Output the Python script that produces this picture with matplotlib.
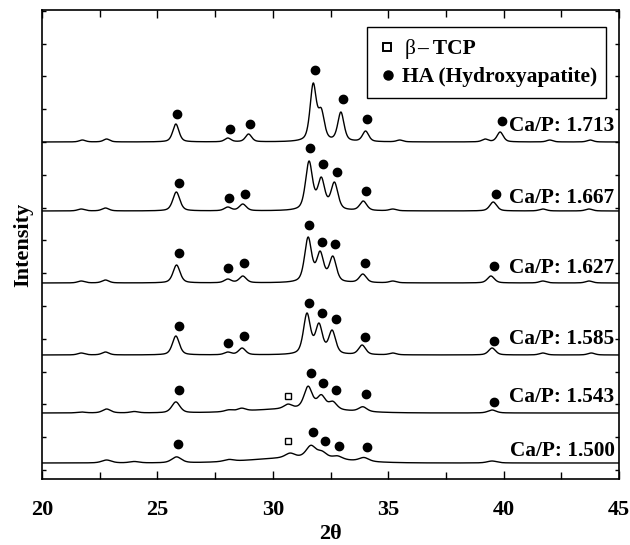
import numpy as np
import matplotlib.pyplot as plt
from matplotlib.patches import Rectangle
from matplotlib.ticker import MultipleLocator

plt.rcParams['font.family'] = ['Liberation Serif', 'DejaVu Serif']
plt.rcParams['font.weight'] = 'bold'

# Ca/P ratios, bottom to top
ratios = ["1.500", "1.543", "1.585", "1.627", "1.667", "1.713"]
offsets = [7, 57, 115, 187, 259, 328]

# peak positions (2theta) and heights above baseline (a.u.)
pos_1500 = [22.8, 24.0, 25.83, 28.1, 30.75, 31.65, 32.13, 32.8, 33.95, 39.5]
hgt_1500 = [3, 1.5, 6, 2, 5, 13, 8, 4, 4, 2]
pos_1543 = [21.7, 22.8, 24.0, 25.8, 28.1, 28.65, 30.66, 31.53, 32.1, 32.6, 33.9, 39.5]
hgt_1543 = [1, 4, 1.5, 11, 2, 3, 5, 23, 15, 9, 5, 3]
pos_1585 = [21.7, 22.75, 25.8, 28.05, 28.67, 31.48, 32.0, 32.57, 33.87, 35.2, 39.5, 41.7, 43.8]
hgt_1585 = [2, 3, 19, 3, 7, 42, 32, 25, 10, 2, 7, 2, 2]
pos_1627 = [21.7, 22.75, 25.83, 28.05, 28.7, 31.53, 32.05, 32.6, 33.9, 35.2, 39.45, 41.7, 43.7]
hgt_1627 = [2, 3, 18, 4, 7, 46, 32, 27, 9, 2, 7, 2, 2]
pos_1667 = [21.7, 22.75, 25.82, 28.05, 28.7, 31.57, 32.1, 32.67, 33.92, 35.2, 39.55, 41.7, 43.7]
hgt_1667 = [2, 3, 19, 4, 7, 50, 34, 29, 10, 2, 9, 2, 2]
pos_1713 = [21.75, 22.8, 25.8, 28.05, 28.95, 31.75, 32.1, 32.95, 34.02, 35.5, 39.2, 39.85, 42.0, 43.75]
hgt_1713 = [2, 3, 18, 4, 8, 59, 34, 30, 11, 2, 3, 10, 2, 2]

peak_pos = [pos_1500, pos_1543, pos_1585, pos_1627, pos_1667, pos_1713]
peak_hgt = [hgt_1500, hgt_1543, hgt_1585, hgt_1627, hgt_1667, hgt_1713]
peak_fwhm = [0.5, 0.42, 0.36, 0.36, 0.36, 0.32]
hump_hgt = [5, 4, 0, 0, 0, 0]  # amorphous background of the Ca-poor samples

# phase markers (2theta, a.u.)
ha_x = [[25.9, 31.75, 32.26, 32.87, 34.08],
        [25.94, 31.65, 32.17, 32.74, 34.05, 39.58],
        [25.94, 28.07, 28.75, 31.58, 32.13, 32.74, 34.0, 39.6],
        [25.94, 28.07, 28.75, 31.58, 32.13, 32.7, 34.0, 39.6],
        [25.94, 28.1, 28.8, 31.62, 32.17, 32.78, 34.04, 39.65],
        [25.85, 28.15, 29.0, 31.85, 33.02, 34.1, 39.95]]
ha_y = [[26, 38, 29, 24, 23],
        [80, 97, 87, 80, 76, 68],
        [144, 127, 134, 167, 157, 151, 133, 129],
        [217, 202, 207, 245, 228, 226, 207, 204],
        [287, 272, 276, 322, 306, 298, 279, 276],
        [356, 341, 346, 400, 371, 351, 349]]
tcp_x = [30.66, 30.66]
tcp_y = [29, 74]
label_y = [14, 68, 126, 197, 267, 339]


def profile(x, c, w):
    d = (x - c) / w
    return 0.5 * np.exp(-4 * np.log(2) * d ** 2) + 0.5 / (1 + 4 * d ** 2)


x = np.linspace(20, 45, 3001)

fig = plt.figure(figsize=(6.3, 5.45), dpi=100)
ax = fig.add_axes([42 / 630, 1 - 479 / 545, 577 / 630, 469 / 545])

for i in range(len(ratios)):
    p = np.array(peak_pos[i])
    h = np.array(peak_hgt[i], dtype=float)
    w = peak_fwhm[i]
    # amplitudes so that the summed curve reaches the read heights at each peak
    M = profile(p[:, None], p[None, :], w)
    amp = np.linalg.solve(M, h)
    y = offsets[i] + hump_hgt[i] * np.exp(-4 * np.log(2) * ((x - 31.0) / 4.5) ** 2)
    for c, a in zip(p, amp):
        y = y + a * profile(x, c, w)
    ax.plot(x, y, color='black', lw=1.0)
    ax.plot(ha_x[i], ha_y[i], 'o', color='black', ms=6)
    ax.text(44.8, label_y[i], "Ca/P: " + ratios[i], ha='right', va='baseline',
            fontsize=15.3, fontweight='bold')

ax.plot(tcp_x, tcp_y, 's', mfc='white', mec='black', ms=4.5, mew=1.0)

# legend box drawn by hand (axes coordinates)
ax.add_patch(Rectangle((0.5633, 0.8124), 0.4142, 0.1514, transform=ax.transAxes,
                       facecolor='white', edgecolor='black', lw=1.0, zorder=5))
ax.plot([0.5979], [0.9211], 's', mfc='white', mec='black', ms=6, mew=1.4,
        transform=ax.transAxes, zorder=6)
ax.plot([0.5997], [0.8614], 'o', color='black', ms=6.5, transform=ax.transAxes, zorder=6)
ax.text(0.6291, 0.9062, "β", transform=ax.transAxes, fontsize=15.5, fontweight='normal',
        va='baseline', zorder=6)
ax.text(0.6499, 0.9062, "– TCP", transform=ax.transAxes, fontsize=15.5,
        va='baseline', zorder=6)
ax.text(0.6239, 0.8465, "HA (Hydroxyapatite)", transform=ax.transAxes, fontsize=15.5,
        va='baseline', zorder=6)

ax.set_xlim(20, 45)
ax.set_ylim(-9, 460)
ax.xaxis.set_major_locator(MultipleLocator(5))
ax.xaxis.set_minor_locator(MultipleLocator(2.5))
ax.yaxis.set_major_locator(MultipleLocator(32.8))
ax.tick_params(which='both', direction='in', top=True, right=True, width=1.0)
ax.tick_params(axis='x', which='major', length=6, pad=15, labelsize=16)
ax.tick_params(axis='x', which='minor', length=5)
ax.tick_params(axis='y', length=3, labelleft=False)
for s in ax.spines.values():
    s.set_linewidth(1.2)

ax.set_xlabel("2θ", fontsize=16, fontweight='bold', labelpad=3)
ax.set_ylabel("Intensity", fontsize=16, fontweight='bold', labelpad=6)

fig.savefig("out.png", dpi=100)
